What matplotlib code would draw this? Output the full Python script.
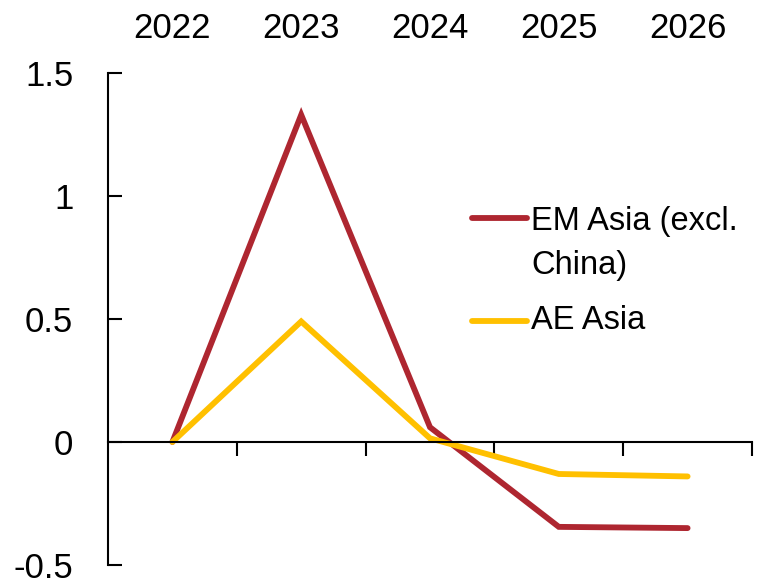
import matplotlib
matplotlib.use('Agg')
import matplotlib.pyplot as plt
from matplotlib.lines import Line2D
from matplotlib import font_manager

names = {f.name for f in font_manager.fontManager.ttflist}
family = 'Liberation Sans Narrow' if 'Liberation Sans Narrow' in names else 'Liberation Sans'
plt.rcParams['font.family'] = [family, 'DejaVu Sans']

years = ['2022', '2023', '2024', '2025', '2026']
em_asia = [0.0, 1.33, 0.06, -0.345, -0.35]
ae_asia = [0.0, 0.49, 0.015, -0.13, -0.14]
em_label = 'EM Asia (excl.\nChina)'
ae_label = 'AE Asia'
red = '#AE2630'
gold = '#FFC000'

fig = plt.figure(figsize=(7.64, 5.81), dpi=100)
ax = fig.add_axes([108 / 764, 1 - 565 / 581, 644 / 764, 492 / 581])

x = list(range(len(years)))
ax.plot(x, em_asia, color=red, lw=4.2, solid_capstyle='round', solid_joinstyle='miter')
ax.plot(x, ae_asia, color=gold, lw=4.2, solid_capstyle='round', solid_joinstyle='miter')

ax.set_xlim(-0.5, len(years) - 0.5)
ax.set_ylim(-0.5, 1.5)
ax.set_yticks([-0.5, 0, 0.5, 1, 1.5])
ax.set_yticklabels(['-0.5', '0', '0.5', '1', '1.5'])

# category labels across the top, tick marks between categories on the zero line
ax.set_xticks(x)
ax.set_xticklabels(years)
ax.set_xticks([i + 0.5 for i in x], minor=True)
ax.tick_params(axis='x', which='major', bottom=False, top=False,
               labelbottom=False, labeltop=True, labelsize=25, pad=17)
ax.tick_params(axis='x', which='minor', direction='out', length=10, width=1.5, color='black')
ax.tick_params(axis='y', direction='in', length=10, width=1.5, labelsize=25, pad=25)

ax.spines['top'].set_visible(False)
ax.spines['right'].set_visible(False)
ax.spines['bottom'].set_position(('data', 0))
ax.spines['left'].set_linewidth(1.5)
ax.spines['bottom'].set_linewidth(1.5)

# legend drawn by hand so the swatch lines up with the first text line
ax.add_line(Line2D([0.565, 0.651], [0.705, 0.705], transform=ax.transAxes,
                   color=red, lw=4.2, solid_capstyle='round'))
ax.text(0.657, 0.73, em_label, transform=ax.transAxes, fontsize=23.5,
        va='top', ha='left', linespacing=1.55)
ax.add_line(Line2D([0.565, 0.651], [0.496, 0.496], transform=ax.transAxes,
                   color=gold, lw=4.2, solid_capstyle='round'))
ax.text(0.657, 0.496, ae_label, transform=ax.transAxes, fontsize=23.5,
        va='center', ha='left')

fig.savefig('out.png', dpi=100)
